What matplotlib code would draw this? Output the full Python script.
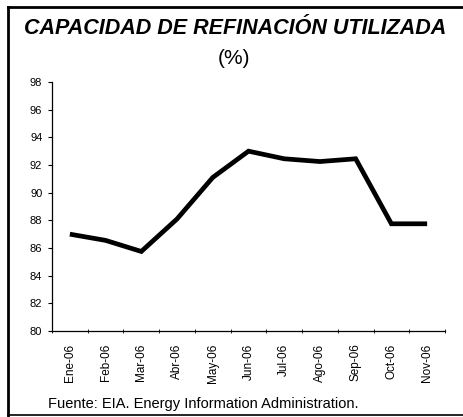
import matplotlib
matplotlib.use("Agg")
import matplotlib.pyplot as plt
from matplotlib.lines import Line2D

plt.rcParams['font.family'] = ['Liberation Sans', 'DejaVu Sans']

months = ["Ene-06", "Feb-06", "Mar-06", "Abr-06", "May-06", "Jun-06",
          "Jul-06", "Ago-06", "Sep-06", "Oct-06", "Nov-06"]
values = [87.0, 86.55, 85.75, 88.1, 91.1, 93.0, 92.45, 92.25, 92.45, 87.75, 87.75]
yticks = list(range(80, 99, 2))

W, H = 463, 417
fig = plt.figure(figsize=(W/100, H/100), dpi=100)
ax = fig.add_axes([52/W, 1-331/H, (445-52)/W, (331-82)/H])

x = list(range(len(months)))
ax.plot(x, values, color='black', lw=3.4, solid_capstyle='butt', solid_joinstyle='miter')
ax.set_xlim(-0.5, len(months)-0.5)
ax.set_ylim(80, 98)
ax.set_yticks(yticks)
ax.set_yticklabels([str(v) for v in yticks], fontsize=8)
ax.set_xticks(x)
ax.set_xticklabels(months, rotation=90, fontsize=8.5)
ax.tick_params(axis='x', length=0, pad=9)
ax.set_xticks([i-0.5 for i in range(len(months)+1)], minor=True)
ax.tick_params(axis='x', which='minor', length=3, direction='inout')
ax.tick_params(axis='y', length=3, direction='out', pad=4, width=0.8)
for s in ['top', 'right']:
    ax.spines[s].set_visible(False)
ax.spines['left'].set_linewidth(0.9)
ax.spines['bottom'].set_linewidth(0.9)

fig.text(235/W, 1-28/H, "CAPACIDAD DE REFINACIÓN UTILIZADA", ha='center', va='center',
         fontsize=15.5, fontweight='bold', fontstyle='italic')
fig.text(234/W, 1-58/H, "(%)", ha='center', va='center', fontsize=15)
fig.text(48/W, 1-404/H, "Fuente: EIA. Energy Information Administration.", ha='left',
         va='center', fontsize=10.5)

# frame lines
fig.add_artist(Line2D([8/W, 8/W], [0, 1-7/H], color='black', lw=2, transform=fig.transFigure))
fig.add_artist(Line2D([8/W, 1], [1-7/H, 1-7/H], color='black', lw=2, transform=fig.transFigure))
fig.add_artist(Line2D([8/W, 1], [1-415/H, 1-415/H], color='black', lw=1.2, transform=fig.transFigure))

fig.savefig("out.png", dpi=100)
